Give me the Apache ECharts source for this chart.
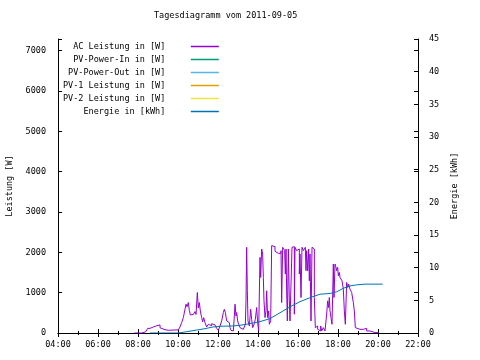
<!DOCTYPE html>
<html><head><meta charset="utf-8">
<script src="https://cdn.jsdelivr.net/npm/echarts@6/dist/echarts.min.js"></script>
<style>html,body{margin:0;padding:0;background:#fff}#c{width:480px;height:360px}</style>
</head><body><div id="c"></div>
<script>
const titleText = 'Tagesdiagramm vom 2011-09-05';
const seriesNames = ['AC Leistung in [W]','PV-Power-In in [W]','PV-Power-Out in [W]','PV-1 Leistung in [W]','PV-2 Leistung in [W]','Energie in [kWh]'];
const seriesColors = ['#9400d3','#009e73','#56b4e9','#e69f00','#f0e442','#0072b2'];

const acTimes = ['07:49','08:11','08:16','08:23','08:29','08:36','08:46','08:56','09:01','09:06','09:11','09:21','09:31','09:36','09:51','10:01','10:06','10:11','10:16','10:21','10:24','10:27','10:31','10:34','10:37','10:41','10:46','10:51','10:54','10:58','11:01','11:04','11:07','11:11','11:14','11:17','11:21','11:26','11:31','11:36','11:41','11:46','11:51','11:56','12:01','12:06','12:11','12:16','12:19','12:22','12:26','12:31','12:34','12:36','12:39','12:42','12:46','12:49','12:51','12:54','12:56','12:59','13:02','13:06','13:09','13:12','13:16','13:19','13:22','13:24','13:26','13:28','13:30','13:34','13:36','13:38','13:41','13:44','13:46','13:49','13:52','13:56','13:59','14:02','14:06','14:08','14:11','14:14','14:16','14:18','14:21','14:24','14:26','14:29','14:32','14:34','14:38','14:41','14:46','14:51','14:56','15:01','15:06','15:09','15:11','15:14','15:17','15:20','15:22','15:24','15:26','15:28','15:31','15:34','15:36','15:39','15:42','15:46','15:49','15:51','15:54','15:56','15:59','16:01','16:04','16:06','16:09','16:12','16:16','16:19','16:22','16:24','16:26','16:29','16:32','16:34','16:36','16:39','16:42','16:46','16:49','16:52','16:56','16:59','17:01','17:04','17:08','17:11','17:16','17:21','17:26','17:29','17:32','17:34','17:36','17:39','17:42','17:46','17:48','17:51','17:54','17:56','17:59','18:01','18:04','18:06','18:09','18:12','18:16','18:19','18:22','18:26','18:29','18:32','18:36','18:41','18:46','18:49','18:52','18:56','19:06','19:16','19:21','19:26','19:31','19:36','19:41','19:51','20:01'];
const acValues = [0,0,30,65,115,150,180,207,200,130,82,67,60,75,75,85,150,257,381,590,714,650,755,560,448,460,448,531,460,1004,620,755,545,381,280,381,257,150,215,180,232,200,216,116,66,174,299,506,589,506,299,257,299,133,66,50,91,423,714,423,506,299,216,133,174,91,91,66,216,797,2125,1046,299,174,216,589,340,133,91,232,340,631,257,50,1876,1378,2083,1959,1378,797,382,548,1046,382,548,216,299,2166,2141,2025,1976,1959,1976,2042,755,2125,2083,2042,1461,2083,1046,299,2083,797,299,257,2125,2141,465,2125,2125,2042,2042,2083,1461,1959,880,2125,2042,2083,2125,1544,2042,1544,2083,1295,1959,299,2125,2083,880,133,174,91,133,50,174,50,133,50,470,797,631,880,548,382,216,1710,880,1710,1627,1544,1627,1419,1502,1378,1336,1295,1087,548,216,1253,1129,1212,1087,1004,755,548,133,91,91,133,116,50,50,33,10,10,10];

const energyTimes = ['08:36','10:01','10:26','10:56','11:21','11:42','12:06','12:46','13:06','13:36','14:06','14:36','15:06','15:36','16:06','16:36','17:06','17:36','17:56','18:16','18:36','18:56','19:21','20:14'];
const energyValues = [0,0,0.2,0.45,0.66,0.9,1.03,1.08,1.18,1.43,1.74,2.2,3.1,4.0,4.8,5.4,5.94,6.05,6.3,6.85,7.2,7.37,7.48,7.48];

const pvInValues = [];
const pvOutValues = [];
const pv1Values = [];
const pv2Values = [];

const xMin = 4, xMax = 22, xStep = 2;
const leftMax = 7290, leftStep = 1000;
const rightMax = 45, rightStep = 5;

function toH(s){ const p = s.split(':'); return (+p[0]) + (+p[1])/60; }
function pairs(ts, vs){ return ts.map((t,i)=>[toH(t), vs[i]]); }
function hh(v){ return String(v).padStart(2,'0') + ':00'; }

const FONT = 'DejaVu Sans Mono';
const txt = {fontFamily: FONT, fontSize: 8.5, color: '#000'};

const chart = echarts.init(document.getElementById('c'), null, {renderer:'canvas'});
const lineSeries = (name, idx, data, yIdx, step) => ({
  name, type:'line', data, yAxisIndex: yIdx, step: step, showSymbol:false, symbol:'none',
  lineStyle:{width:1, color:seriesColors[idx]}, itemStyle:{color:seriesColors[idx]}, animation:false
});

chart.setOption({
  backgroundColor:'#fff',
  animation:false,
  title:{text:titleText, left:154, top:11, padding:0, textStyle:Object.assign({}, txt, {fontWeight:'normal'})},
  legend:{
    orient:'vertical', left:63, top:40, padding:0, align:'right', itemGap:0,
    itemWidth:28, itemHeight:1.5, icon:'rect',
    data: seriesNames,
    formatter: n => n.padStart(20,' ') + '    ',
    textStyle:Object.assign({}, txt, {lineHeight:13}),
    selectedMode:false
  },
  grid:{left:58, right:62, top:39, bottom:27, containLabel:false, outerBoundsMode:'none'},
  xAxis:[
    {type:'value', min:xMin, max:xMax, interval:xStep, position:'bottom',
     axisLine:{lineStyle:{color:'#000', width:1}},
     axisTick:{inside:true, length:4, lineStyle:{color:'#000'}},
     minorTick:{show:true, splitNumber:2, length:2, lineStyle:{color:'#000'}},
     splitLine:{show:false},
     axisLabel:Object.assign({}, txt, {margin:7, formatter:hh})},
    {type:'value', min:xMin, max:xMax, interval:xStep, position:'top',
     axisLine:{lineStyle:{color:'#000', width:1}},
     axisTick:{inside:true, length:4, lineStyle:{color:'#000'}},
     minorTick:{show:true, splitNumber:2, length:2, lineStyle:{color:'#000'}},
     splitLine:{show:false}, axisLabel:{show:false}}
  ],
  yAxis:[
    {type:'value', min:0, max:leftMax, interval:leftStep, position:'left',
     name:'Leistung [W]', nameLocation:'middle', nameRotate:90, nameGap:44,
     nameTextStyle:txt,
     axisLine:{show:true, lineStyle:{color:'#000', width:1}},
     axisTick:{inside:true, length:4, lineStyle:{color:'#000'}},
     splitLine:{show:false},
     axisLabel:Object.assign({}, txt, {margin:12, formatter:v => (v % 1000 === 0 ? String(v) : '')})},
    {type:'value', min:0, max:rightMax, interval:rightStep, position:'right',
     name:'Energie [kWh]', nameLocation:'middle', nameRotate:90, nameGap:30,
     nameTextStyle:txt,
     axisLine:{show:true, lineStyle:{color:'#000', width:1}},
     axisTick:{inside:true, length:4, lineStyle:{color:'#000'}},
     splitLine:{show:false},
     axisLabel:Object.assign({}, txt, {margin:11})},
    {type:'value', min:0, max:leftMax, interval:leftStep, position:'right',
     axisLine:{show:false},
     axisTick:{inside:true, length:4, lineStyle:{color:'#000'}},
     splitLine:{show:false}, axisLabel:{show:false}}
  ],
  series:[
    lineSeries(seriesNames[0], 0, pairs(acTimes, acValues), 0, 'end'),
    lineSeries(seriesNames[1], 1, pvInValues, 0, 'end'),
    lineSeries(seriesNames[2], 2, pvOutValues, 0, 'end'),
    lineSeries(seriesNames[3], 3, pv1Values, 0, 'end'),
    lineSeries(seriesNames[4], 4, pv2Values, 0, 'end'),
    lineSeries(seriesNames[5], 5, pairs(energyTimes, energyValues), 1, false)
  ]
});
</script></body></html>
